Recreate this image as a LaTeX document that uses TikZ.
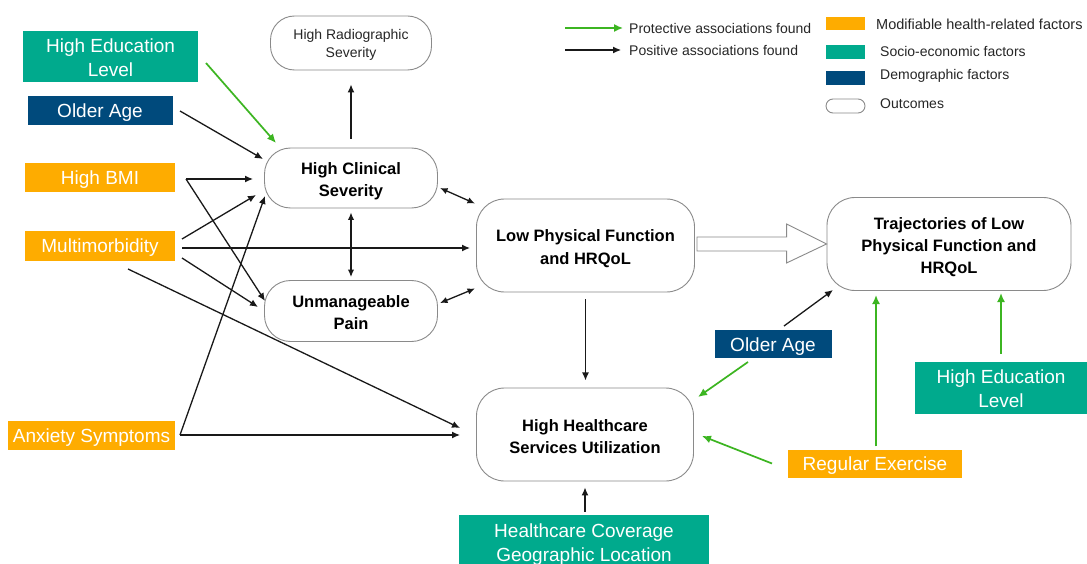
\documentclass[tikz,border=0pt]{standalone}
\usepackage{fontspec}
\setmainfont{Liberation Sans}
\usetikzlibrary{arrows.meta,calc}
\definecolor{orng}{HTML}{FEAC00}
\definecolor{tealc}{HTML}{00AA8D}
\definecolor{navyc}{HTML}{004A7C}
\definecolor{grn}{HTML}{3CB521}
\definecolor{edgegray}{HTML}{8A8A8A}
\begin{document}
\begin{tikzpicture}[x=1pt,y=-1pt,
  fac/.style={draw=none, text=white, inner sep=0pt, align=center, font=\fontsize{19}{24}\selectfont, text height=14.5pt, text depth=0.5pt},
  fac2/.style={text height=41pt, text depth=1.5pt},
  mod/.style={fac, fill=orng},
  soc/.style={fac, fill=tealc},
  dem/.style={fac, fill=navyc},
  outc/.style={draw=edgegray, line width=0.9pt, fill=white, rounded corners=26pt, align=center, inner sep=0pt, text=black, font=\bfseries\fontsize{16.5}{22}\selectfont, text height=40pt, text depth=3pt},
  out3/.style={text height=62pt, text depth=3pt},
  legtxt/.style={anchor=west, inner sep=0pt, font=\fontsize{14}{16}\selectfont, text=black!85},
  swatch/.style={draw=none, minimum width=39pt, minimum height=14pt, inner sep=0pt},
  posarrow/.style={line width=1.3pt, draw=black!90, -{Latex[length=8pt,width=7pt]}},
  twoway/.style={line width=1.3pt, draw=black!90, {Latex[length=7.5pt,width=6.5pt]}-{Latex[length=7.5pt,width=6.5pt]}},
  protarrow/.style={line width=1.7pt, draw=grn, -{Latex[length=9pt,width=8pt]}},
  bigarrow/.style={draw=edgegray, line width=0.9pt, fill=white}
]
\path[use as bounding box, fill=white] (0,0) rectangle (1087,564);

% left factors
\node[soc, fac2, minimum width=175pt, minimum height=51pt] (hel1) at (110.5,56.5) {High Education\\Level};
\node[dem, minimum width=145pt, minimum height=29pt] (age1) at (100,111) {Older Age};
\node[mod, minimum width=150pt, minimum height=29pt] (bmi) at (100,178) {High BMI};
\node[mod, minimum width=150pt, minimum height=29pt] (multi) at (100,246) {Multimorbidity};
\node[mod, minimum width=167pt, minimum height=29pt] (anx) at (91.5,435) {Anxiety Symptoms};

% outcomes
\node[outc, rounded corners=24pt, minimum width=161pt, minimum height=54pt, font=\fontsize{14}{18}\selectfont, text=black!85, text height=31pt, text depth=1.5pt] (rad) at (351,43) {High Radiographic\\Severity};
\node[outc, minimum width=173pt, minimum height=60pt] (hcs) at (351,178) {High Clinical\\Severity};
\node[outc, minimum width=173pt, minimum height=61pt] (pain) at (351,311) {Unmanageable\\Pain};
\node[outc, rounded corners=28pt, minimum width=218pt, minimum height=93pt] (lpf) at (585.5,245.5) {Low Physical Function\\and HRQoL};
\node[outc, out3, rounded corners=28pt, minimum width=244pt, minimum height=93pt] (traj) at (949,244) {Trajectories of Low\\Physical Function and\\HRQoL};
\node[outc, rounded corners=28pt, minimum width=217pt, minimum height=93pt] (hhsu) at (585,434.5) {High Healthcare\\Services Utilization};

% right factors
\node[dem, minimum width=117pt, minimum height=28pt] (age2) at (773,344) {Older Age};
\node[soc, fac2, minimum width=172pt, minimum height=52pt] (hel2) at (1001,388) {High Education\\Level};
\node[mod, minimum width=174pt, minimum height=28pt] (ex) at (875,463.5) {Regular Exercise};
\node[soc, fac2, minimum width=250pt, minimum height=54pt] (cov) at (584,542) {Healthcare Coverage\\Geographic Location};

% legend
\coordinate (lg1a) at (565,28); \coordinate (lg1b) at (623,28);
\coordinate (lg2a) at (565,50); \coordinate (lg2b) at (621,50);
\draw[protarrow, line width=1.5pt] (lg1a) -- (lg1b);
\draw[posarrow, line width=1.1pt] (lg2a) -- (lg2b);
\node[legtxt] (lt1) at (629,28) {Protective associations found};
\node[legtxt] (lt2) at (629,50) {Positive associations found};
\node[swatch, fill=orng, minimum height=13pt] (sw1) at (845.5,23.5) {};
\node[swatch, fill=tealc] (sw2) at (845.5,52) {};
\node[swatch, fill=navyc] (sw3) at (845.5,78) {};
\node[swatch, draw=edgegray, line width=0.9pt, fill=white, rounded corners=7pt] (sw4) at (845.5,106) {};
\node[legtxt, font=\fontsize{14.5}{16}\selectfont] (lt3) at (876,24) {Modifiable health-related factors};
\node[legtxt] (lt4) at (880,51) {Socio-economic factors};
\node[legtxt] (lt5) at (880,76) {Demographic factors};
\node[legtxt] (lt6) at (880,104) {Outcomes};

% left connectors
\draw[protarrow] ($(hel1.center)+(95.5,6.5)$) -- ($(hcs.center)+(-75,-35)$);
\draw[posarrow] ($(age1.center)+(80,0)$) -- ($(hcs.center)+(-88,-19)$);
\draw[posarrow] ($(bmi.center)+(86,1)$) -- ($(hcs.center)+(-98,1)$);
\draw[posarrow] ($(bmi.center)+(86,1)$) -- ($(pain.center)+(-86,-10)$);
\draw[posarrow] ($(multi.center)+(82,-7)$) -- ($(hcs.center)+(-95,17)$);
\draw[posarrow] ($(multi.center)+(82,2)$) -- ($(lpf.center)+(-115.5,2.5)$);
\draw[posarrow] ($(multi.center)+(82,12)$) -- ($(pain.center)+(-93,-4)$);
\draw[posarrow] ($(multi.center)+(28,23)$) -- ($(hhsu.center)+(-125,-6.5)$);
\draw[posarrow] ($(anx.center)+(88.5,0)$) -- ($(hcs.center)+(-86,18)$);
\draw[posarrow] ($(anx.center)+(88.5,0)$) -- ($(hhsu.center)+(-125,0.5)$);

% outcome connectors
\draw[posarrow] ($(hcs.north)+(0,-9)$) -- ($(rad.south)+(0,14)$);
\draw[twoway] ($(hcs.south)+(0,4)$) -- ($(pain.north)+(0,-3)$);
\draw[twoway] ($(hcs.center)+(89,10)$) -- ($(lpf.center)+(-110.5,-42)$);
\draw[twoway] ($(pain.center)+(89,-8)$) -- ($(lpf.center)+(-110.5,43)$);
\draw[posarrow] ($(lpf.south)+(0,7)$) -- ($(lpf.south)+(0,88)$);
\draw[posarrow] ($(cov.north)+(1,-3)$) -- ($(hhsu.south)+(0,6)$);

% big hollow arrow
\draw[bigarrow] ($(lpf.east)+(2,-8.5)$) -- ($(traj.west)+(-40,-7)$) -- ($(traj.west)+(-40,-20)$) -- (traj.west) -- ($(traj.west)+(-40,19)$) -- ($(traj.west)+(-40,7)$) -- ($(lpf.east)+(2,5.5)$) -- cycle;

% right connectors
\draw[posarrow] ($(age2.center)+(11,-18)$) -- ($(traj.center)+(-116,46)$);
\draw[protarrow] ($(age2.center)+(-25,18)$) -- ($(hhsu.center)+(113,-37.5)$);
\draw[protarrow] ($(ex.center)+(-103,0)$) -- ($(hhsu.center)+(117,1.5)$);
\draw[protarrow] ($(ex.north)+(1,-3)$) -- ($(traj.center)+(-73,51)$);
\draw[protarrow] ($(hel2.north)+(0,-8)$) -- ($(traj.center)+(52,49)$);
\end{tikzpicture}
\end{document}
